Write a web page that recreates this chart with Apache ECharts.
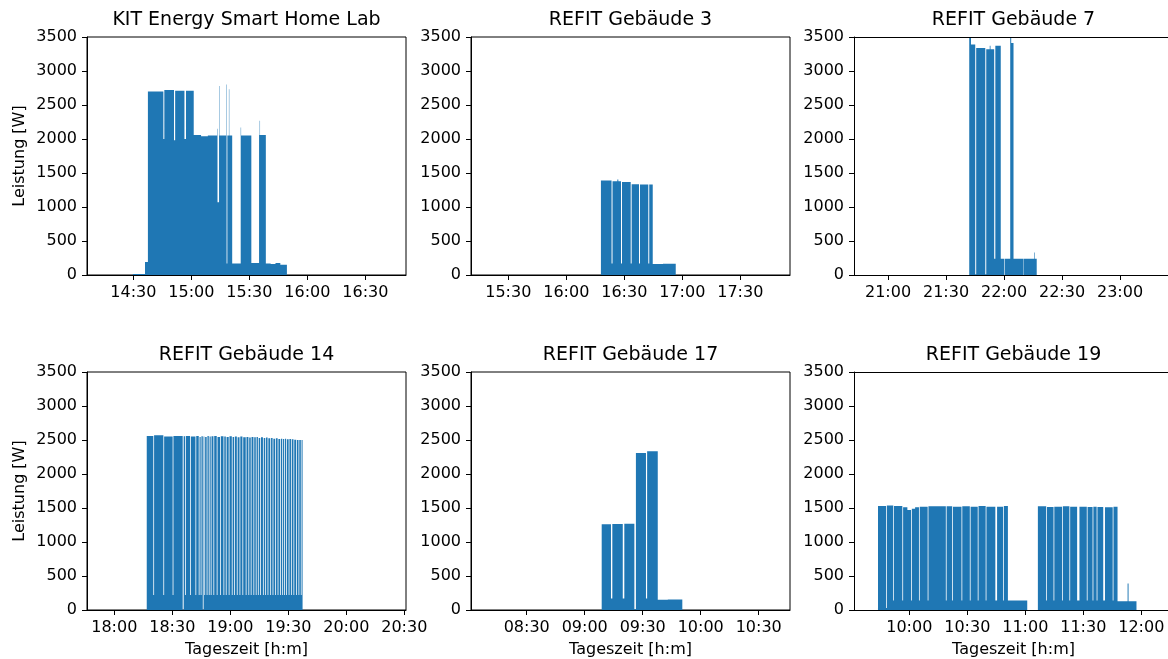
<!DOCTYPE html>
<html><head><meta charset="utf-8">
<script src="https://cdn.jsdelivr.net/npm/echarts@6/dist/echarts.min.js"></script>
<style>html,body{margin:0;padding:0;background:#fff}#c{width:1168px;height:659px}</style>
</head><body><div id="c"></div>
<script>
// ---- Data (time in minutes since midnight, power in W) ----
const titles = ['KIT Energy Smart Home Lab','REFIT Gebäude 3','REFIT Gebäude 7','REFIT Gebäude 14','REFIT Gebäude 17','REFIT Gebäude 19'];
const yTicks = [0,500,1000,1500,2000,2500,3000,3500];
const yLabel = 'Leistung [W]';
const xLabel = 'Tageszeit [h:m]';

const p1Ticks = ['14:30','15:00','15:30','16:00','16:30'];
const p2Ticks = ['15:30','16:00','16:30','17:00','17:30'];
const p3Ticks = ['21:00','21:30','22:00','22:30','23:00'];
const p4Ticks = ['18:00','18:30','19:00','19:30','20:00','20:30'];
const p5Ticks = ['08:30','09:00','09:30','10:00','10:30'];
const p6Ticks = ['10:00','10:30','11:00','11:30','12:00'];

// visible window of each panel (third column is cut by the image edge)
const xRanges = [[846,1011],[910.7,1075.7],[1242.4,1404.8],[1065.9,1230.9],[481.2,646.2],[571.4,733.8]];

const p1Time = [869.7,876.0,877.5,885.5,886.0,891.0,891.6,896.4,897.2,901.2,905.0,908.5,913.3,913.5,914.3,914.5,918.0,918.2,918.6,919.4,919.6,921.1,925.5,925.7,931.0,935.0,935.3,935.5,938.5,941.0,943.5,946.0,949.4];
const p1Watt = [15,190,2700,2000,2720,1980,2710,2000,2710,2060,2040,2050,2150,1070,2780,2050,2800,170,2050,2730,2050,170,2170,2050,175,2060,2270,2060,170,160,175,150,0];

const p2Time = [977.9,983.4,983.9,986.4,986.9,988.3,988.8,993.3,993.8,997.6,998.1,1002.4,1002.9,1004.7,1010.0,1016.6];
const p2Watt = [1390,170,1380,1405,1380,170,1366,170,1335,170,1330,170,1330,160,165,0];

const p3Time = [1302.0,1302.9,1305.1,1305.6,1310.3,1310.8,1312.6,1313.0,1314.9,1315.5,1318.3,1320.0,1320.3,1323.2,1323.7,1324.9,1330.0,1330.2,1335.7,1336.0,1336.9];
const p3Watt = [3560,3390,10,3340,10,3320,3370,3320,240,3370,240,0,240,3490,3410,240,0,240,330,240,0];

const p4Time = [1096.8,1100.2,1100.6,1105.4,1105.8,1110.2,1110.6,1115.4,1115.9,1116.6,1117.0,1119.2,1119.6,1122.0,1122.4,1123.7,1124.1,1124.7,1125.1,1125.8,1126.2,1126.6,1127.0,1127.8,1128.2,1128.9,1129.3,1129.9,1130.3,1131.3,1131.7,1133.0,1133.4,1134.7,1135.1,1136.5,1136.9,1137.7,1138.1,1139.2,1139.6,1140.8,1141.2,1142.0,1142.4,1143.4,1143.8,1144.8,1145.2,1146.3,1146.7,1148.0,1148.4,1149.4,1149.8,1150.6,1151.0,1152.0,1152.4,1153.2,1153.6,1154.3,1154.7,1155.5,1155.9,1156.9,1157.3,1158.1,1158.5,1159.3,1159.7,1160.7,1161.1,1161.9,1162.3,1163.2,1163.6,1164.5,1164.9,1165.8,1166.2,1166.9,1167.3,1167.9,1168.3,1168.9,1169.3,1170.2,1170.6,1171.4,1171.8,1172.7,1173.1,1174.1,1174.5,1175.3,1175.7,1176.5,1176.9,1177.4];
const p4Watt = [2560,220,2570,220,2550,220,2560,0,2555,220,2560,220,2550,220,2560,220,2545,220,2555,0,2550,220,2545,220,2560,220,2550,220,2555,220,2560,220,2545,220,2555,220,2550,220,2545,220,2555,220,2545,220,2550,220,2540,220,2550,220,2540,220,2545,220,2535,220,2545,220,2540,220,2545,220,2530,220,2540,220,2530,220,2535,220,2525,220,2530,220,2520,220,2525,220,2515,220,2520,220,2515,220,2520,220,2510,220,2515,220,2510,220,2505,220,2500,220,2500,220,2500,0];

const p5Time = [548.8,553.6,554.3,559.7,560.5,565.7,566.5,571.7,572.3,577.8,583.0,590.5];
const p5Watt = [1260,170,1265,170,1270,10,2310,170,2335,150,155,0];

const p6Time = [583.8,588.0,588.4,591.7,592.1,596.4,596.8,599.0,600.9,601.3,603.0,605.0,605.4,609.5,609.9,618.9,619.3,622.2,622.6,627.0,627.4,631.3,631.7,635.4,635.8,639.5,639.9,644.5,645.4,648.5,648.9,651.0,661.0,666.5,670.8,671.2,674.6,675.0,679.0,679.4,682.8,683.2,686.8,688.0,691.8,692.2,694.8,695.2,696.9,697.3,700.3,701.2,705.2,705.6,707.7,712.9,713.4,717.5];
const p6Watt = [1530,30,1535,140,1530,140,1510,1470,140,1490,1510,140,1520,140,1525,140,1525,140,1520,140,1525,140,1520,140,1530,140,1520,140,1520,140,1530,140,0,1525,140,1515,140,1520,140,1525,140,1520,140,1520,140,1515,140,1520,140,1515,140,1510,140,1520,130,390,130,0];

// ---- Build chart ----
const toMin = s => { const [h,m] = s.split(':').map(Number); return h*60+m; };
const fmt = v => { const h = Math.floor(v/60), m = Math.round(v - h*60); return String(h).padStart(2,'0')+':'+String(m).padStart(2,'0'); };
const panelTicks = [p1Ticks,p2Ticks,p3Ticks,p4Ticks,p5Ticks,p6Ticks];
const panelTime = [p1Time,p2Time,p3Time,p4Time,p5Time,p6Time];
const panelWatt = [p1Watt,p2Watt,p3Watt,p4Watt,p5Watt,p6Watt];

// sample-and-hold outline of the filled power trace (closed down to 0 W)
function holdOutline(ts, ws) {
  const out = [[ts[0], 0]];
  for (let j = 0; j < ts.length; j++) {
    if (j > 0) out.push([ts[j], ws[j-1]]);
    out.push([ts[j], ws[j]]);
  }
  out.push([ts[ts.length-1], 0]);
  return out;
}

const FONT = '"DejaVu Sans", "Liberation Sans", sans-serif';
const colLeft = [87, 471, 854];
const colWidth = [319, 319, 314];
const rowTop = [37, 372];
const H = 238, FULLW = 319;
const BLUE = '#1f77b4';

const grid = [], xAxis = [], yAxis = [], series = [], graphic = [];
for (let i = 0; i < 6; i++) {
  const c = i % 3, r = Math.floor(i / 3);
  const boxed = c < 2;
  grid.push({left: colLeft[c], top: rowTop[r], width: colWidth[c], height: H, show: boxed, borderColor: '#000', borderWidth: 1, backgroundColor: 'transparent', containLabel: false});
  if (!boxed) {
    graphic.push({type: 'line', silent: true, z: 10, shape: {x1: colLeft[c], y1: rowTop[r] + 0.5, x2: colLeft[c] + colWidth[c] + 5, y2: rowTop[r] + 0.5}, style: {stroke: '#000', lineWidth: 1}});
  }
  const tv = panelTicks[i].map(toMin);
  xAxis.push({type: 'value', gridIndex: i, min: xRanges[i][0], max: xRanges[i][1],
    axisLine: {show: true, onZero: false, lineStyle: {color: '#000', width: 1}},
    axisTick: {show: true, length: 5, customValues: tv, lineStyle: {color: '#000', width: 1}},
    axisLabel: {show: true, customValues: tv, formatter: v => fmt(v), color: '#000', fontSize: 16, fontFamily: FONT, margin: 10},
    splitLine: {show: false}, z: 5});
  yAxis.push({type: 'value', gridIndex: i, min: yTicks[0], max: yTicks[yTicks.length-1], interval: yTicks[1]-yTicks[0],
    axisLine: {show: true, lineStyle: {color: '#000', width: 1}},
    axisTick: {show: true, length: 5, lineStyle: {color: '#000', width: 1}},
    axisLabel: {show: true, formatter: v => String(v), color: '#000', fontSize: 16, fontFamily: FONT, margin: 10},
    splitLine: {show: false}, z: 5});
  const outline = holdOutline(panelTime[i], panelWatt[i]);
  series.push({type: 'custom', xAxisIndex: i, yAxisIndex: i, silent: true, clip: true, z: 2,
    data: [[panelTime[i][0], 0]],
    renderItem: (params, api) => {
      const pts = outline.map(p => api.coord(p));
      const cs = params.coordSys;
      return {type: 'polygon', shape: {points: pts},
        clipPath: {type: 'rect', shape: {x: cs.x, y: cs.y, width: cs.width, height: cs.height}},
        style: {fill: BLUE, stroke: null}};
    }});
  graphic.push({type: 'text', x: colLeft[c] + FULLW/2, y: rowTop[r] - 17, silent: true,
    style: {text: titles[i], font: '19px ' + FONT, fill: '#000', align: 'center', verticalAlign: 'middle'}});
  if (c === 0) {
    graphic.push({type: 'text', x: 20, y: rowTop[r] + H/2, rotation: Math.PI/2, silent: true,
      style: {text: yLabel, font: '16px ' + FONT, fill: '#000', align: 'center', verticalAlign: 'middle'}});
  }
  if (r === 1) {
    graphic.push({type: 'text', x: colLeft[c] + FULLW/2, y: 650, silent: true,
      style: {text: xLabel, font: '16px ' + FONT, fill: '#000', align: 'center', verticalAlign: 'middle'}});
  }
}

const chart = echarts.init(document.getElementById('c'), null, {renderer: 'canvas'});
chart.setOption({animation: false, backgroundColor: '#fff', grid, xAxis, yAxis, series, graphic});
</script>
</body></html>
